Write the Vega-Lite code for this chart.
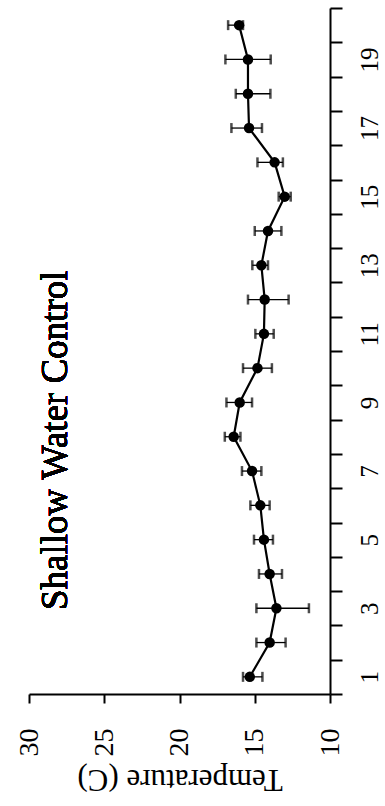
{
  "$schema": "https://vega.github.io/schema/vega-lite/v6.json",
  "autosize": "none",
  "width": 301,
  "height": 686,
  "padding": {"left": 29, "top": 8, "right": 55, "bottom": 112},
  "background": "white",
  "config": {"view": {"stroke": null}},
  "data": {
    "values": [
      {"day": 1, "temp": 15.33, "lo": 14.49, "hi": 15.78},
      {"day": 2, "temp": 14.01, "lo": 12.95, "hi": 14.89},
      {"day": 3, "temp": 13.56, "lo": 11.40, "hi": 14.89},
      {"day": 4, "temp": 14.01, "lo": 13.19, "hi": 14.72},
      {"day": 5, "temp": 14.39, "lo": 13.79, "hi": 15.05},
      {"day": 6, "temp": 14.63, "lo": 14.01, "hi": 15.29},
      {"day": 7, "temp": 15.18, "lo": 14.56, "hi": 15.85},
      {"day": 8, "temp": 16.40, "lo": 15.95, "hi": 16.99},
      {"day": 9, "temp": 16.00, "lo": 15.18, "hi": 16.88},
      {"day": 10, "temp": 14.82, "lo": 13.86, "hi": 15.78},
      {"day": 11, "temp": 14.39, "lo": 13.74, "hi": 14.96},
      {"day": 12, "temp": 14.34, "lo": 12.75, "hi": 15.45},
      {"day": 13, "temp": 14.56, "lo": 14.12, "hi": 15.16},
      {"day": 14, "temp": 14.12, "lo": 13.23, "hi": 15.00},
      {"day": 15, "temp": 13.01, "lo": 12.61, "hi": 13.41},
      {"day": 16, "temp": 13.68, "lo": 13.13, "hi": 14.82},
      {"day": 17, "temp": 15.38, "lo": 14.52, "hi": 16.55},
      {"day": 18, "temp": 15.45, "lo": 13.96, "hi": 16.26},
      {"day": 19, "temp": 15.45, "lo": 13.94, "hi": 16.95},
      {"day": 20, "temp": 16.04, "lo": 15.78, "hi": 16.77}
    ]
  },
  "encoding": {
    "y": {
      "field": "day",
      "type": "quantitative",
      "title": null,
      "scale": {"domain": [0.5, 20.5], "nice": false, "zero": false},
      "axis": {
        "orient": "right",
        "title": null,
        "grid": false,
        "values": [0.5, 1, 1.5, 2, 2.5, 3, 3.5, 4, 4.5, 5, 5.5, 6, 6.5, 7, 7.5, 8, 8.5, 9, 9.5, 10, 10.5, 11, 11.5, 12, 12.5, 13, 13.5, 14, 14.5, 15, 15.5, 16, 16.5, 17, 17.5, 18, 18.5, 19, 19.5, 20, 20.5],
        "labelExpr": "datum.value % 2 === 1 ? format(datum.value, 'd') : ''",
        "labelAngle": -90,
        "labelAlign": "center",
        "labelBaseline": "top",
        "labelFont": "Liberation Serif",
        "labelFontSize": 25,
        "labelColor": "black",
        "labelPadding": 15,
        "labelOverlap": false,
        "labelFlush": false,
        "tickSize": 12,
        "tickWidth": 2,
        "tickColor": "black",
        "tickOpacity": {"condition": {"test": "datum.value % 1 === 0", "value": 0}, "value": 1},
        "domainColor": "black",
        "domainWidth": 2
      }
    }
  },
  "layer": [
    {
      "mark": {"type": "rule", "color": "black", "strokeWidth": 1.3},
      "encoding": {
        "x": {"field": "lo", "type": "quantitative", "title": "Temperature (C)", "scale": {"domain": [10, 30], "reverse": true, "nice": false, "zero": false}},
        "x2": {"field": "hi"}
      }
    },
    {
      "mark": {"type": "tick", "orient": "vertical", "color": "black", "size": 10, "thickness": 2.5},
      "encoding": {
        "x": {"field": "lo", "type": "quantitative", "title": "Temperature (C)"}
      }
    },
    {
      "mark": {"type": "tick", "orient": "vertical", "color": "black", "size": 10, "thickness": 2.5},
      "encoding": {
        "x": {"field": "hi", "type": "quantitative", "title": "Temperature (C)"}
      }
    },
    {
      "mark": {"type": "line", "color": "black", "strokeWidth": 2.2},
      "encoding": {
        "order": {"field": "day", "type": "quantitative"},
        "x": {
          "field": "temp",
          "type": "quantitative",
          "title": "Temperature (C)",
          "axis": {
            "orient": "bottom",
            "title": "Temperature (C)",
            "grid": false,
            "values": [10, 12.5, 15, 17.5, 20, 22.5, 25, 27.5, 30],
            "labelExpr": "datum.value % 5 === 0 ? format(datum.value, 'd') : ''",
            "labelAngle": -90,
            "labelAlign": "right",
            "labelBaseline": "middle",
            "labelFont": "Liberation Serif",
            "labelFontSize": 28,
            "labelColor": "black",
            "labelPadding": 25,
            "labelOverlap": false,
            "labelFlush": false,
            "tickSize": 9,
            "tickWidth": 2,
            "tickColor": "black",
            "domainColor": "black",
            "domainWidth": 2,
            "titleFont": "Liberation Serif",
            "titleFontSize": 31,
            "titleFontWeight": "normal",
            "titleColor": "black",
            "titleAngle": 180,
            "titleBaseline": "bottom",
            "titlePadding": 6,
            "encode": {
              "ticks": {
                "update": {
                  "y": {"value": -8},
                  "y2": {"signal": "datum.value % 5 === 0 ? 9 : 0"}
                }
              }
            }
          }
        }
      }
    },
    {
      "mark": {"type": "point", "filled": true, "color": "black", "opacity": 1, "size": 110},
      "encoding": {
        "x": {"field": "temp", "type": "quantitative", "title": "Temperature (C)"}
      }
    },
    {
      "mark": {"type": "text", "text": "Shallow Water Control", "angle": 270, "align": "center", "baseline": "middle", "font": "Liberation Serif", "fontSize": 37, "color": "black"},
      "encoding": {
        "x": {"datum": 28.2, "type": "quantitative"},
        "y": {"datum": 7.9, "type": "quantitative"}
      }
    }
  ]
}
